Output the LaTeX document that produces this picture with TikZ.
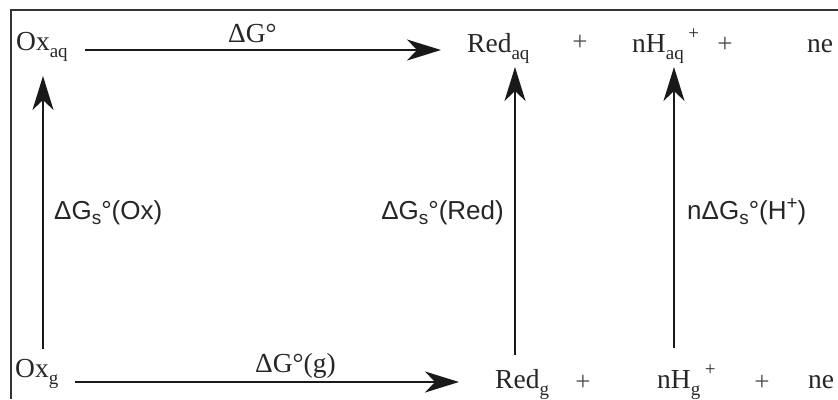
\documentclass[tikz,border=0pt]{standalone}
\usepackage{fontspec}
\setmainfont{Liberation Serif}
\newfontfamily\labfont{Liberation Sans}
\usetikzlibrary{arrows.meta}
\newcommand\lowtxt[1]{\raisebox{-0.28em}{\fontsize{19}{20}\selectfont #1}}
\newcommand\hightxt[1]{\raisebox{0.45em}{\fontsize{19}{20}\selectfont #1}}
\newcommand\slow[1]{\raisebox{-0.22em}{\fontsize{19}{20}\selectfont #1}}
\newcommand\shigh[1]{\raisebox{0.38em}{\fontsize{19}{20}\selectfont #1}}
\begin{document}
\begin{tikzpicture}[x=1pt,y=-1pt,
  sertxt/.style={font=\fontsize{27.5}{30}\selectfont, inner sep=0pt, anchor=base west, text=black!85},
  plus/.style={font=\fontsize{27}{30}\selectfont, inner sep=0pt, anchor=base, text=black!70},
  sanslab/.style={font=\labfont\fontsize{26}{30}\selectfont, inner sep=0pt, anchor=base west, text=black!85},
  arr/.style={line width=2pt, draw=black!90, -{Stealth[length=34pt,width=21pt,inset=10pt]}},
  frameline/.style={line width=1.3pt, draw=black!80}]
\useasboundingbox (0,0) rectangle (838,399);
% frame
\coordinate (fr1) at (838,10);
\coordinate (fr2) at (11,10);
\coordinate (fr3) at (11,399);
\draw[frameline] (fr1) -- (fr2) -- (fr3);
% top row
\node[sertxt] (oxaq) at (16,50) {Ox\lowtxt{aq}};
\node[sertxt] (redaq) at (467,52) {Red\lowtxt{aq}};
\node[plus] (p1) at (580,50) {+};
\node[sertxt] (nhaq) at (632,52) {nH\lowtxt{aq}\,\hightxt{+}};
\node[plus] (p2) at (725,52) {+};
\node[sertxt] (neaq) at (807,52) {ne};
\node[sertxt] (dg) at (228,42) {ΔG°};
% bottom row
\node[sertxt] (oxg) at (15,377) {Ox\lowtxt{g}};
\node[sertxt] (redg) at (495,388) {Red\lowtxt{g}};
\node[plus] (p3) at (583,390) {+};
\node[sertxt] (nhg) at (657,388) {nH\lowtxt{g}\,\hightxt{+}};
\node[plus] (p4) at (762,390) {+};
\node[sertxt] (neg) at (808,388) {ne};
\node[sertxt] (dgg) at (255,372) {ΔG°(g)};
% side labels
\node[sanslab] (lox) at (54,219) {ΔG\slow{s}°(Ox)};
\node[sanslab, anchor=base east] (lred) at (504,219) {ΔG\slow{s}°(Red)};
\node[sanslab] (lh) at (687,219) {nΔG\slow{s}°(H\shigh{+})};
% arrow ends
\coordinate (a1s) at (85,50);
\coordinate (a1e) at (441,50);
\coordinate (a2s) at (75,382);
\coordinate (a2e) at (459,382);
\coordinate (v1s) at (43,349);
\coordinate (v1e) at (43,76);
\coordinate (v2s) at (515,355);
\coordinate (v2e) at (515,67);
\coordinate (v3s) at (674,348);
\coordinate (v3e) at (674,67);
\draw[arr] (a1s) -- (a1e);
\draw[arr] (a2s) -- (a2e);
\draw[arr] (v1s) -- (v1e);
\draw[arr] (v2s) -- (v2e);
\draw[arr] (v3s) -- (v3e);
\end{tikzpicture}
\end{document}
